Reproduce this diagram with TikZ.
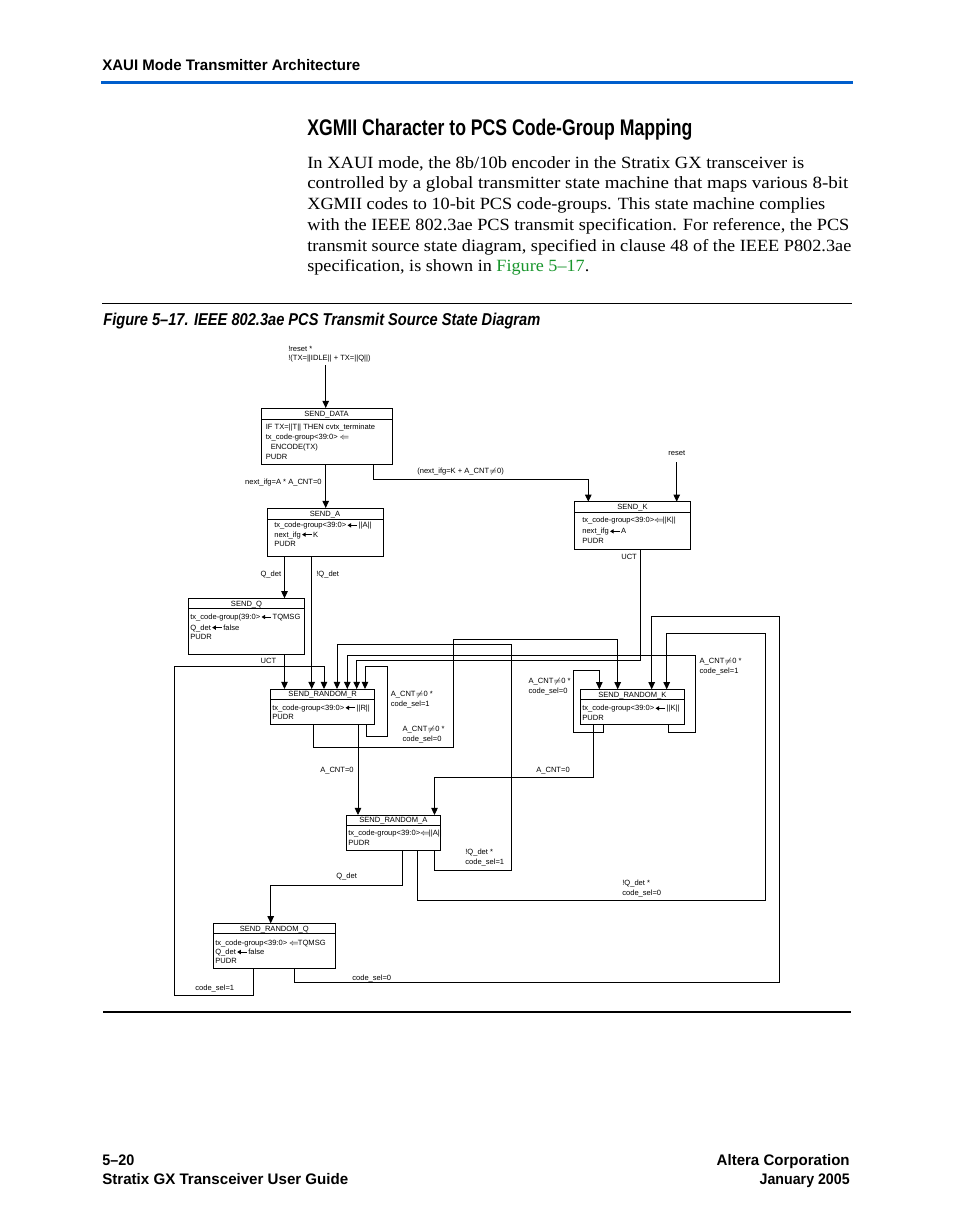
\documentclass[tikz,border=0pt]{standalone}
\usepackage{fontspec}
\usepackage{graphicx}
\setmainfont{Liberation Serif}
\newfontfamily\hsans[Ligatures=TeX]{Liberation Sans}
\usetikzlibrary{arrows.meta}
\newsavebox\fitbox
\newcommand\fitx[2]{\sbox\fitbox{#2}\pgfmathsetmacro\fitr{#1*0.6415/\the\wd\fitbox}\scalebox{\fitr}[1]{\usebox\fitbox}}
\definecolor{hdrblue}{RGB}{0,94,204}
\definecolor{lnkgreen}{RGB}{25,150,45}
\newcommand\dfont{\hsans\fontsize{4.85}{5.6}\selectfont}
\newcommand\la{$\mkern-1mu\Leftarrow\mkern-2mu$}
\newcommand\tla{\hspace{0.5pt}\tikz[baseline=-0.6ex,x=1pt,y=1pt]\draw[line width=0.65pt,-{Triangle[length=2.3pt,width=2.7pt]}](6.2pt,0)--(0pt,0);\hspace{0.6pt}}
\tikzset{
  box/.style={draw, line width=0.6pt, inner sep=0pt, outer sep=0pt, anchor=north west},
  lbl/.style={font=\dfont, inner sep=0pt, anchor=base west},
  lble/.style={font=\dfont, inner sep=0pt, anchor=base east},
  conn/.style={line width=0.6pt},
  arr/.style={conn, -{Triangle[length=4.6pt,width=4.2pt]}},
}
% name, x1, y1, x2, y2, ysep, title
\newcommand\stbox[7]{%
  \node[box, minimum width={(#4-#2)*0.6415pt}, minimum height={(#5-#3)*0.6415pt}] (#1) at (#2,#3) {};
  \draw[conn] (#1.west |- 0,#6) -- (#1.east |- 0,#6);
  \node[font=\dfont, inner sep=0pt, anchor=base] (#1t) at ({(#2+#4)/2},{(#3+#6)/2+2.7}) {#7};}
% name, x, ycenter, text
\newcommand\lab[4]{\node[lbl] (#1) at (#2,{#3+2.7}) {#4};}
\newcommand\labe[4]{\node[lble] (#1) at (#2,{#3+2.7}) {#4};}
\begin{document}
\begin{tikzpicture}[x=0.6415pt,y=-0.6415pt]
\useasboundingbox (0,0) rectangle (954,1227);
\fill[white] (0,0) rectangle (954,1227);

% ---------- page header ----------
\node[anchor=base west, inner sep=0pt, font=\hsans\bfseries\fontsize{9.8}{11}\selectfont] (hdr) at (102,70.5)
  {\fitx{258}{XAUI Mode Transmitter Architecture}};
\fill[hdrblue] (101,81) rectangle (853,84.5);

\node[anchor=base west, inner sep=0pt, font=\hsans\bfseries\fontsize{14.5}{16}\selectfont] (ttl) at (307,135.5)
  {\fitx{385}{XGMII Character to PCS Code-Group Mapping}};

\begin{scope}[every node/.style={anchor=base west, inner sep=0pt, font=\fontsize{11}{13}\selectfont}]
\node (p1) at (307,168.3) {\fitx{497}{In XAUI mode, the 8b/10b encoder in the Stratix GX transceiver is}};
\node (p2) at (307,189) {\fitx{541}{controlled by a global transmitter state machine that maps various 8-bit}};
\node (p3) at (307,209.7) {\fitx{518}{XGMII codes to 10-bit PCS code-groups. This state machine complies}};
\node (p4) at (307,230.3) {\fitx{542}{with the IEEE 802.3ae PCS transmit specification. For reference, the PCS}};
\node (p5) at (307,251) {\fitx{544}{transmit source state diagram, specified in clause 48 of the IEEE P802.3ae}};
\node (p6) at (307,271.7) {\fitx{282}{specification, is shown in \textcolor{lnkgreen}{Figure 5\textendash 17}.}};
\end{scope}

\draw[line width=0.7pt] (102,303.3) -- (852,303.3);
\node[anchor=base west, inner sep=0pt, font=\hsans\bfseries\itshape\fontsize{11}{12}\selectfont] (cap) at (103,325)
  {\fitx{437}{Figure 5\textendash 17. IEEE 802.3ae PCS Transmit Source State Diagram}};

\draw[line width=0.7pt] (103,1012) -- (851,1012);

\begin{scope}[every node/.style={inner sep=0pt, font=\hsans\bfseries\fontsize{9.8}{11}\selectfont}]
\node[anchor=base west] (f1) at (102,1165) {\fitx{32}{5\textendash 20}};
\node[anchor=base west] (f2) at (102,1184) {\fitx{246}{Stratix GX Transceiver User Guide}};
\node[anchor=base east] (f3) at (850,1165) {\fitx{133}{Altera Corporation}};
\node[anchor=base east] (f4) at (850,1184) {\fitx{90}{January 2005}};
\end{scope}

% ---------- states ----------
\stbox{sd}{261}{408}{392}{464}{419}{SEND\_DATA}
\stbox{sa}{267}{508}{383}{556}{519}{SEND\_A}
\stbox{sk}{574.3}{501.7}{690.7}{549.3}{512.3}{SEND\_K}
\stbox{sq}{188.3}{598.3}{304.7}{654}{608.3}{SEND\_Q}
\stbox{rr}{270.7}{689}{374.7}{724.7}{699}{SEND\_RANDOM\_R}
\stbox{rk}{580.7}{689.3}{684}{724.3}{699.3}{SEND\_RANDOM\_K}
\stbox{ra}{346.7}{815}{440}{850}{825}{SEND\_RANDOM\_A}
\stbox{rq}{213}{923.3}{335.5}{968.3}{933.3}{SEND\_RANDOM\_Q}

\lab{sd1}{265.5}{427}{IF TX=||T|| THEN cvtx\_terminate}
\lab{sd2}{265.5}{437}{tx\_code-group<39:0> \la}
\lab{sd3}{270.5}{446.7}{ENCODE(TX)}
\lab{sd4}{265.5}{456.3}{PUDR}

\lab{sa1}{274}{525}{tx\_code-group<39:0>\tla||A||}
\lab{sa2}{274}{534.3}{next\_ifg\tla K}
\lab{sa3}{274}{544}{PUDR}

\lab{sk1}{582}{520}{tx\_code-group<39:0>\la||K||}
\lab{sk2}{582}{531}{next\_ifg\tla A}
\lab{sk3}{582}{540.7}{PUDR}

\lab{sq1}{190}{616.7}{tx\_code-group(39:0>\tla TQMSG}
\lab{sq2}{190}{627.3}{Q\_det\tla false}
\lab{sq3}{190}{637}{PUDR}

\lab{rr1}{272}{707.5}{tx\_code-group<39:0>\tla||R||}
\lab{rr2}{272}{717}{PUDR}

\lab{rk1}{582}{708}{tx\_code-group<39:0>\tla||K||}
\lab{rk2}{582}{717.3}{PUDR}

\lab{ra1}{348}{832.7}{tx\_code-group<39:0>\la||A||}
\lab{ra2}{348}{842.7}{PUDR}

\lab{rq1}{215}{942.7}{tx\_code-group<39:0> \la TQMSG}
\lab{rq2}{215}{951.7}{Q\_det\tla false}
\lab{rq3}{215}{960.7}{PUDR}

% ---------- connectors ----------
\coordinate (init) at (325.7,365);
\coordinate (rst) at (676.7,462);

\draw[arr] (init) -- (sd.north -| init);
\draw[arr] (sd.south -| 325.7,0) -- (sa.north -| 325.7,0);
\draw[arr] (sd.south -| 373.3,0) |- (588.3,479.3) -- (sk.north -| 588.3,0);
\draw[arr] (rst) -- (sk.north -| rst);
\draw[arr] (sa.south -| 284.5,0) -- (sq.north -| 284.5,0);
\draw[arr] (sa.south -| 311.7,0) -- (rr.north -| 311.7,0);
\draw[arr] (sq.south -| 284.5,0) -- (rr.north -| 284.5,0);
\draw[arr] (sk.south -| 640,0) |- (356.7,660) -- (rr.north -| 356.7,0);
\draw[arr] (rr.south -| 366.7,0) |- (387.3,736) |- (365,666.7) -- (rr.north -| 365,0);
\draw[arr] (rr.south -| 313.3,0) |- (453.3,747) |- (617.7,639.7) -- (rk.north -| 617.7,0);
\draw[arr] (rr.south -| 358,0) -- (ra.north -| 358,0);
\draw[arr] (rk.south -| 603.3,0) |- (573.3,732.7) |- (599.3,670.7) -- (rk.north -| 599.3,0);
\draw[arr] (rk.south -| 668.3,0) |- (695,732.7) |- (347.3,655) -- (rr.north -| 347.3,0);
\draw[arr] (rk.south -| 593.3,0) |- (434.5,777) -- (ra.north -| 434.5,0);
\draw[arr] (ra.south -| 434.3,0) |- (511.7,870.7) |- (337,644.3) -- (rr.north -| 337,0);
\draw[arr] (ra.south -| 417.7,0) |- (765,900) |- (666.7,633.3) -- (rk.north -| 666.7,0);
\draw[arr] (ra.south -| 402.7,0) |- (270.7,885) -- (rq.north -| 270.7,0);
\draw[arr] (rq.south -| 253,0) |- (174,995.7) |- (324,666) -- (rr.north -| 324,0);
\draw[arr] (rq.south -| 294,0) |- (779.5,982.3) |- (651.7,616.7) -- (rk.north -| 651.7,0);

% ---------- connector labels ----------
\lab{l1}{288}{349}{!reset *}
\lab{l2}{288}{358}{!(TX=||IDLE|| + TX=||Q||)}
\labe{l3}{322}{481.7}{next\_ifg=A * A\_CNT=0}
\lab{l4}{417}{471}{(next\_ifg=K + A\_CNT$\neq$0)}
\lab{l5}{668}{453}{reset}
\labe{l6}{281.5}{573.3}{Q\_det}
\lab{l7}{316}{573.3}{!Q\_det}
\lab{l8}{621}{557}{UCT}
\labe{l9}{276.5}{660.5}{UCT}
\lab{l10a}{390.5}{693.5}{A\_CNT$\neq$0 *}
\lab{l10b}{390.5}{703.5}{code\_sel=1}
\lab{l11a}{402.3}{729}{A\_CNT$\neq$0 *}
\lab{l11b}{402.3}{739}{code\_sel=0}
\lab{l12a}{528.3}{680.7}{A\_CNT$\neq$0 *}
\lab{l12b}{528.3}{690.3}{code\_sel=0}
\lab{l13a}{699.3}{661}{A\_CNT$\neq$0 *}
\lab{l13b}{699.3}{671}{code\_sel=1}
\labe{l14}{354}{770}{A\_CNT=0}
\lab{l15}{536}{770}{A\_CNT=0}
\lab{l16a}{465}{851.5}{!Q\_det *}
\lab{l16b}{465}{861.5}{code\_sel=1}
\lab{l17a}{622}{883}{!Q\_det *}
\lab{l17b}{622}{893}{code\_sel=0}
\lab{l18}{336}{875.5}{Q\_det}
\lab{l19}{195}{988}{code\_sel=1}
\lab{l20}{352}{977.5}{code\_sel=0}
\end{tikzpicture}
\end{document}
